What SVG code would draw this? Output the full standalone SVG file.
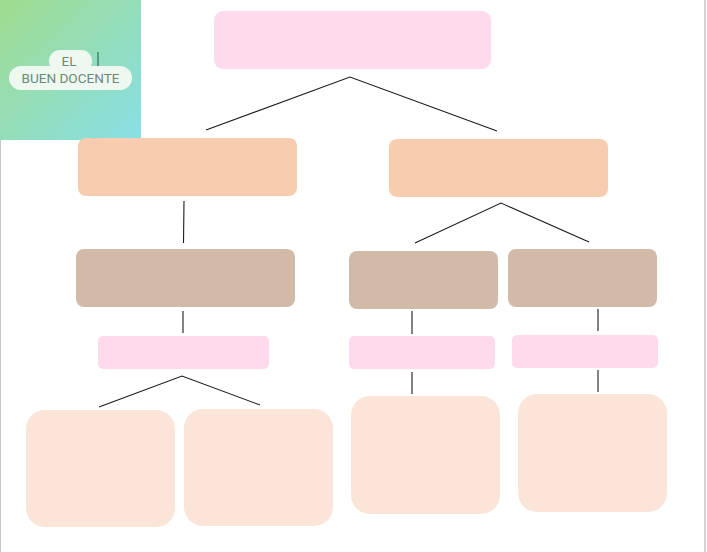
<svg xmlns="http://www.w3.org/2000/svg" width="707" height="552" viewBox="0 0 707 552">
<defs>
<linearGradient id="g" x1="0" y1="0" x2="1" y2="1">
<stop offset="0" stop-color="#A0DC8E"/>
<stop offset="1" stop-color="#88DFE6"/>
</linearGradient>
<style>
.pink{fill:#FFD9EC}
.orange{fill:#F8CDAF}
.tan{fill:#D1BBA8}
.cream{fill:#FAE5D8}
.pill{fill:#EFF8F0}
.lbl{font-family:Roboto,"Liberation Sans",sans-serif;font-size:13.5px;font-weight:400;fill:#6B8A78;text-anchor:middle}
#connectors line,#connectors polyline{stroke:#1a1a1a;stroke-width:1.1;fill:none}
</style>
</defs>
<rect width="707" height="552" fill="#FFFFFF"/>
<line x1="0.5" y1="0" x2="0.5" y2="552" stroke="#C8C8C8" stroke-width="1"/>
<line x1="705" y1="0" x2="705" y2="552" stroke="#C8C8C8" stroke-width="1.5"/>
<g id="title">
<rect x="0" y="0" width="141" height="140" fill="url(#g)"/>
<rect class="pill" x="49" y="50" width="43" height="22" rx="11"/>
<rect class="pill" x="9" y="66" width="123" height="24" rx="12"/>
<text class="lbl" x="69" y="66">EL</text>
<text class="lbl" x="70.5" y="83" textLength="98" lengthAdjust="spacingAndGlyphs">BUEN DOCENTE</text>
<line x1="98" y1="52" x2="98" y2="66" stroke="#2E6E50" stroke-width="1.2"/>
</g>
<g id="connectors">
<polyline points="206,130 350,77 497,131"/>
<line x1="184" y1="201" x2="183.5" y2="243"/>
<polyline points="415,243 501,203 589,242"/>
<line x1="183" y1="311" x2="183" y2="333"/>
<line x1="412" y1="311" x2="412" y2="334"/>
<line x1="598" y1="309" x2="598" y2="331"/>
<polyline points="99,407 182,376 260,405"/>
<line x1="412" y1="372" x2="412" y2="394"/>
<line x1="598" y1="370" x2="598" y2="392"/>
</g>
<g id="n-root"><rect class="pink" x="214" y="11" width="277" height="58" rx="9"/></g>
<g id="n-l1"><rect class="orange" x="78" y="138" width="219" height="58" rx="8"/></g>
<g id="n-r1"><rect class="orange" x="389" y="139" width="219" height="58" rx="8"/></g>
<g id="n-l2"><rect class="tan" x="76" y="249" width="219" height="58" rx="8"/></g>
<g id="n-m2"><rect class="tan" x="349" y="251" width="149" height="58" rx="8"/></g>
<g id="n-r2"><rect class="tan" x="508" y="249" width="149" height="58" rx="8"/></g>
<g id="n-l3"><rect class="pink" x="98" y="336" width="171" height="33" rx="5"/></g>
<g id="n-m3"><rect class="pink" x="349" y="336" width="146" height="33" rx="5"/></g>
<g id="n-r3"><rect class="pink" x="512" y="335" width="146" height="33" rx="5"/></g>
<g id="n-b1"><rect class="cream" x="26" y="410" width="149" height="117" rx="19"/></g>
<g id="n-b2"><rect class="cream" x="184" y="409" width="149" height="117" rx="19"/></g>
<g id="n-b3"><rect class="cream" x="351" y="396" width="149" height="118" rx="19"/></g>
<g id="n-b4"><rect class="cream" x="518" y="394" width="149" height="118" rx="19"/></g>
</svg>
